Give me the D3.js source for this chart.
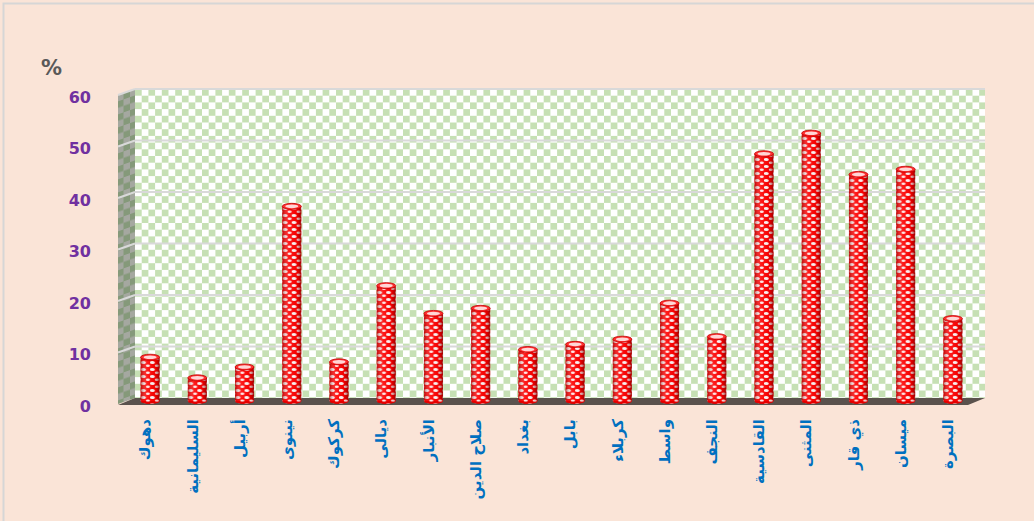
<!DOCTYPE html>
<html>
<head>
<meta charset="utf-8">
<script src="https://cdn.jsdelivr.net/npm/d3@7"></script>
<style>
  body { margin: 0; background: #fae4d7; }
  svg { display: block; }
</style>
</head>
<body>
<svg></svg>
<script>
const size = {w: 1034, h: 521};
const svg = d3.select('svg').attr('width', size.w).attr('height', size.h);

// governorates, left to right
const categories = ['دهوك', 'السليمانية', 'أربيل', 'نينوى', 'كركوك', 'ديالى', 'الأنبار', 'صلاح الدين',
  'بغداد', 'بابل', 'كربلاء', 'واسط', 'النجف', 'القادسية', 'المثنى', 'ذي قار', 'ميسان', 'البصرة'];
const values = [8.5, 4.5, 6.6, 37.8, 7.6, 22.4, 17, 18, 10, 11, 12, 19, 12.5, 48, 52, 44, 45, 16];
const yTicks = [0, 10, 20, 30, 40, 50, 60];

// 3d depth offset (front is left / down of the back wall)
const depth = {dx: -17, dy: 6};

const x = d3.scaleBand().domain(categories).range([135, 985]).padding(0);
const y = d3.scaleLinear().domain([0, 60]).range([398, 89]);

// frame
svg.append('rect')
  .attr('x', 3.5).attr('y', 3.5)
  .attr('width', size.w).attr('height', size.h)
  .attr('fill', '#fae4d7').attr('stroke', '#d6d6d6').attr('stroke-width', 2);

// --------- PATTERNS ----------
const defs = svg.append('defs');

const wallPat = defs.append('pattern').attr('id', 'wall')
  .attr('patternUnits', 'userSpaceOnUse').attr('width', 13.4).attr('height', 13.4)
  .attr('x', 135).attr('y', 89);
wallPat.append('rect').attr('width', 13.4).attr('height', 13.4).attr('fill', '#ffffff');
wallPat.append('rect').attr('width', 6.7).attr('height', 6.7).attr('fill', '#c6e0b4');
wallPat.append('rect').attr('x', 6.7).attr('y', 6.7).attr('width', 6.7).attr('height', 6.7).attr('fill', '#c6e0b4');

const sidePat = defs.append('pattern').attr('id', 'side')
  .attr('patternUnits', 'userSpaceOnUse').attr('width', 13).attr('height', 13)
  .attr('patternTransform', `skewY(${Math.atan2(-depth.dy, -depth.dx) * 180 / Math.PI})`);
sidePat.append('rect').attr('width', 13).attr('height', 13).attr('fill', '#a5a8a0');
sidePat.append('rect').attr('width', 6.5).attr('height', 6.5).attr('fill', '#85997a');
sidePat.append('rect').attr('x', 6.5).attr('y', 6.5).attr('width', 6.5).attr('height', 6.5).attr('fill', '#85997a');

const barPat = defs.append('pattern').attr('id', 'barpat')
  .attr('patternUnits', 'userSpaceOnUse').attr('width', 9).attr('height', 7);
barPat.append('rect').attr('width', 9).attr('height', 7).attr('fill', '#ff0000');
barPat.append('ellipse').attr('cx', 2.3).attr('cy', 2.5).attr('rx', 2.5).attr('ry', 1.6).attr('fill', '#ffffff');
barPat.append('ellipse').attr('cx', 6.8).attr('cy', 5.8).attr('rx', 2).attr('ry', 1.2).attr('fill', '#ffe6e6');

const shade = defs.append('linearGradient').attr('id', 'shade');
shade.append('stop').attr('offset', '0%').attr('stop-color', '#800000').attr('stop-opacity', 0.55);
shade.append('stop').attr('offset', '35%').attr('stop-color', '#ffffff').attr('stop-opacity', 0.1);
shade.append('stop').attr('offset', '75%').attr('stop-color', '#800000').attr('stop-opacity', 0.1);
shade.append('stop').attr('offset', '100%').attr('stop-color', '#600000').attr('stop-opacity', 0.6);

// --------- WALLS ----------
const x0 = x.range()[0], x1 = x.range()[1];
svg.append('rect')
  .attr('x', x0).attr('y', y(60))
  .attr('width', x1 - x0).attr('height', y(0) - y(60))
  .attr('fill', 'url(#wall)');

svg.append('polygon')
  .attr('points', [[x0, y(60)], [x0, y(0)], [x0 + depth.dx, y(0) + depth.dy], [x0 + depth.dx, y(60) + depth.dy]].join(' '))
  .attr('fill', 'url(#side)');

// gridlines
const grid = svg.append('g');
grid.selectAll('line.back')
  .data(yTicks.filter(t => t > 0))
  .join('line').classed('back', true)
  .attr('x1', x0).attr('x2', x1)
  .attr('y1', d => y(d)).attr('y2', d => y(d))
  .attr('stroke', '#d9d9d9').attr('stroke-width', 2);
grid.selectAll('line.side')
  .data(yTicks.filter(t => t > 0))
  .join('line').classed('side', true)
  .attr('x1', x0 + depth.dx).attr('x2', x0)
  .attr('y1', d => y(d) + depth.dy).attr('y2', d => y(d))
  .attr('stroke', '#d9d9d9').attr('stroke-width', 2);

// floor
svg.append('polygon')
  .attr('points', [[x0, y(0)], [x1, y(0)], [x1 + depth.dx, y(0) + depth.dy + 1], [x0 + depth.dx, y(0) + depth.dy + 1]].join(' '))
  .attr('fill', '#5a524d');

// --------- Y AXIS LABELS ----------
svg.append('g').selectAll('text')
  .data(yTicks)
  .join('text')
  .attr('x', 91)
  .attr('y', d => y(d) + depth.dy + 2)
  .attr('dy', '0.35em')
  .attr('text-anchor', 'end')
  .attr('fill', '#7030a0')
  .attr('font-family', 'Verdana, "DejaVu Sans", sans-serif')
  .attr('font-weight', 'bold')
  .attr('font-size', 16)
  .text(d => d);

svg.append('text')
  .attr('x', 41).attr('y', 75)
  .attr('fill', '#595959')
  .attr('font-family', '"DejaVu Sans", sans-serif')
  .attr('font-weight', 'bold')
  .attr('font-size', 21)
  .text('%');

// --------- BARS ----------
const bw = 19, ry = 3;
const barG = svg.append('g').selectAll('g')
  .data(categories.map((c, i) => ({cat: c, value: values[i]})))
  .join('g')
  .attr('transform', d => `translate(${x(d.cat) + x.bandwidth() / 2 + depth.dx / 2}, ${depth.dy / 2})`);

barG.append('ellipse')
  .attr('cx', 0).attr('cy', y(0))
  .attr('rx', bw / 2).attr('ry', ry)
  .attr('fill', '#c00000');
barG.append('rect')
  .attr('x', -bw / 2).attr('y', d => y(d.value))
  .attr('width', bw).attr('height', d => y(0) - y(d.value))
  .attr('fill', 'url(#barpat)');
barG.append('rect')
  .attr('x', -bw / 2).attr('y', d => y(d.value))
  .attr('width', bw).attr('height', d => y(0) - y(d.value))
  .attr('fill', 'url(#shade)');
barG.append('ellipse')
  .attr('cx', 0).attr('cy', y(0))
  .attr('rx', bw / 2).attr('ry', ry)
  .attr('fill', 'url(#barpat)').attr('opacity', 0.6);
barG.append('ellipse')
  .attr('cx', 0).attr('cy', d => y(d.value))
  .attr('rx', bw / 2).attr('ry', ry)
  .attr('fill', '#ff3030').attr('stroke', '#c00000').attr('stroke-width', 0.8);
barG.append('ellipse')
  .attr('cx', 0).attr('cy', d => y(d.value))
  .attr('rx', bw / 2 - 3).attr('ry', ry - 1.2)
  .attr('fill', '#ffd6d6');

// --------- X AXIS LABELS ----------
svg.append('g').selectAll('text')
  .data(categories)
  .join('text')
  .attr('transform', d => `translate(${x(d) + x.bandwidth() / 2 + depth.dx / 2 - 5}, 419) rotate(-90)`)
  .attr('text-anchor', 'end')
  .attr('dy', '0.35em')
  .attr('fill', '#0070c0')
  .attr('font-family', '"DejaVu Sans", sans-serif')
  .attr('font-weight', 'bold')
  .attr('font-size', 15)
  .text(d => d);
</script>
</body>
</html>
